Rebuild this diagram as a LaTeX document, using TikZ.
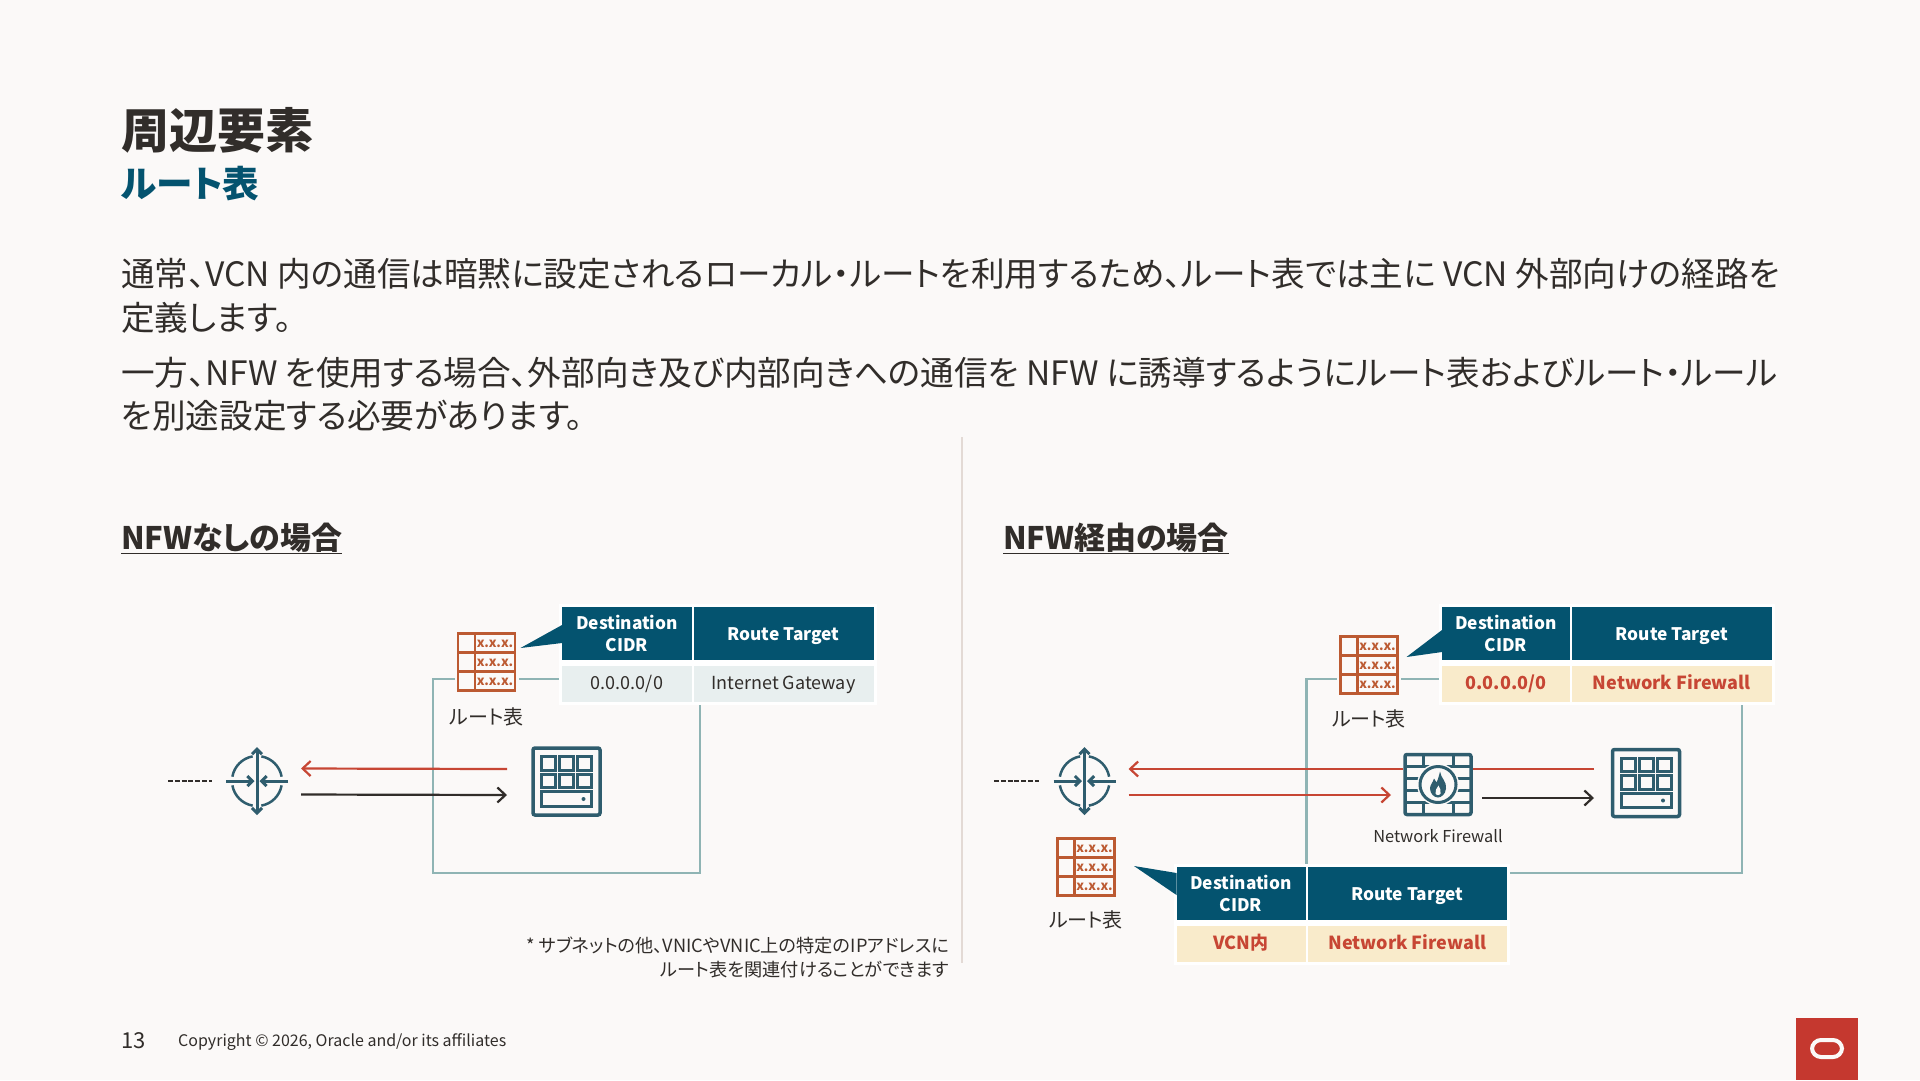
\documentclass[tikz,border=0pt]{standalone}
\usepackage{fontspec}
\setmainfont[RawFeature=+palt]{Noto Sans CJK JP}
\usetikzlibrary{arrows.meta, positioning, fit, backgrounds}
\definecolor{pageBg}{HTML}{FBF9F8}
\definecolor{inkDark}{HTML}{312D2A}
\definecolor{oraTeal}{HTML}{04536F}
\definecolor{iconTeal}{HTML}{2F5D6E}
\definecolor{boxLine}{HTML}{8FB4B4}
\definecolor{oraRed}{HTML}{C74634}
\definecolor{logoRed}{HTML}{C5382F}
\definecolor{rtblBrown}{HTML}{BC5A32}
\definecolor{rowGray}{HTML}{E8EFEF}
\definecolor{rowSand}{HTML}{F9EBCB}
\definecolor{divLine}{HTML}{E3DAD5}
\tikzset{
  arrowRed/.style={-{Straight Barb[length=8pt,width=15pt]}, oraRed, line width=2.2pt},
  arrowInk/.style={-{Straight Barb[length=8pt,width=15pt]}, inkDark, line width=2.2pt},
  lineRed/.style={oraRed, line width=2.2pt},
  dashInk/.style={inkDark, line width=2.5pt, dash pattern=on 5pt off 1.8pt},
  netBox/.style={draw=boxLine, line width=2.7pt},
  slot/.style={inner sep=0pt, outer sep=0pt},
  thCell/.style={fill=oraTeal, text=white, align=center, inner sep=0pt, outer sep=0pt,
                 font=\bfseries\fontsize{17.3}{22}\selectfont, minimum height=53pt},
  thOne/.style={thCell, text height=16pt, text depth=2pt},
  tdGray/.style={fill=rowGray, text=inkDark, inner sep=0pt, outer sep=0pt,
                 text height=14pt, text depth=4pt,
                 font=\fontsize{18}{22}\selectfont, minimum height=36pt},
  tdSand/.style={fill=rowSand, text=oraRed, inner sep=0pt, outer sep=0pt,
                 text height=14pt, text depth=4pt,
                 font=\bfseries\fontsize{18}{22}\selectfont, minimum height=36pt},
  tblBack/.style={fill=white, inner sep=3pt},
  label/.style={text=inkDark, inner sep=0pt, font=\fontsize{20}{24}\selectfont},
  headA/.style={text=inkDark, inner sep=0pt, anchor=west, font=\bfseries\fontsize{31}{36}\selectfont},
  bodyText/.style={text=inkDark, inner sep=0pt, anchor=north west, align=left,
                   font=\fontsize{33.6}{43.5}\selectfont},
  rtbl/.pic={
    \fill[pageBg] (-32,-29) rectangle (32,29);
    \draw[rtblBrown, line width=2.5pt] (-28.5,-28.5) rectangle (28.5,28.5)
      (-11.5,-28.5) -- (-11.5,28.5) (-28.5,-9.5) -- (28.5,-9.5) (-28.5,9.5) -- (28.5,9.5);
    \foreach \r/\yy in {a/-18, b/1, c/20}
      \node[text=rtblBrown, inner sep=0pt, font=\bfseries\fontsize{13}{13}\selectfont] (\r) at (8.5,\yy) {x.x.x.};
  },
  gateway/.pic={
    \foreach \a in {0,90,180,270}
      \draw[iconTeal, line width=2.5pt] (\a+10:25pt) arc[start angle=\a+10, end angle=\a+80, radius=25pt];
    \draw[iconTeal, line width=3pt, -{Straight Barb[length=5pt,width=10pt]}] (-31,0) -- (-2.5,0);
    \draw[iconTeal, line width=3pt, -{Straight Barb[length=5pt,width=10pt]}] (31,0) -- (2.5,0);
    \draw[iconTeal, line width=3pt, {Straight Barb[length=5pt,width=10pt]}-{Straight Barb[length=5pt,width=10pt]}] (0,-34) -- (0,34);
  },
  srvbox/.pic={
    \draw[iconTeal, line width=3.5pt, rounded corners=2pt] (-33.5,-33.5) rectangle (33.5,33.5);
    \foreach \xx in {-25,-7,11} \foreach \yy in {-25,-7.5}
      \draw[iconTeal, line width=3pt] (\xx,\yy) rectangle ++(14,13.5);
    \draw[iconTeal, line width=3pt] (-25,10) rectangle (25,24.5);
    \fill[iconTeal] (17,17.5) circle (2pt);
  },
  fwall/.pic={
    \draw[iconTeal, line width=3.5pt, rounded corners=2pt] (-33,-30) rectangle (33,30);
    \draw[iconTeal, line width=3pt] (-33,-18) -- (33,-18) (-33,-6) -- (33,-6) (-33,6) -- (33,6) (-33,18) -- (33,18)
      (-15,-30) -- (-15,-18) (15,-30) -- (15,-18) (-15,18) -- (-15,30) (15,18) -- (15,30);
    \fill[pageBg] (0,0) circle (21pt);
    \draw[iconTeal, line width=3pt] (0,0) circle (18pt);
    \fill[iconTeal] (2,-13) .. controls (3,-6) and (9,-3) .. (8,4) .. controls (7.5,10) and (3,13) .. (0,13)
      .. controls (-4,13) and (-8,9) .. (-8,4) .. controls (-8,0) and (-5,-2) .. (-4,-6)
      .. controls (-2,-4) and (-2,-2) .. (-1.5,-2) .. controls (0,-5) and (1,-9) .. (2,-13) -- cycle;
    \fill[pageBg] (0.5,1) .. controls (2,4) and (3.5,6) .. (2.5,9) .. controls (2,11) and (-2,11) .. (-2.5,9)
      .. controls (-3.5,6) and (-1,4) .. (0.5,1) -- cycle;
  },
}
\begin{document}
\begin{tikzpicture}[x=1pt, y=-1pt]
  \useasboundingbox (0,0) rectangle (1920,1080);
  \begin{scope}[on background layer]
    \fill[pageBg] (0,0) rectangle (1920,1080);
  \end{scope}

  % title and text
  \node[text=inkDark, inner sep=0pt, anchor=west, font=\bfseries\fontsize{48}{52}\selectfont] (ttl) at (121,130) {周辺要素};
  \node[text=oraTeal, inner sep=0pt, anchor=west, font=\bfseries\fontsize{36.6}{40}\selectfont] (sub) at (121,183.5) {ルート表};
  \node[bodyText] (para1) at (121,258) {通常、VCN 内の通信は暗黙に設定されるローカル・ルートを利用するため、ルート表では主に VCN 外部向けの経路を\\定義します。};
  \node[bodyText] (para2) at (121,356.5) {一方、NFW を使用する場合、外部向き及び内部向きへの通信を NFW に誘導するようにルート表およびルート・ルール\\を別途設定する必要があります。};
  \draw[divLine, line width=1.5pt] (962,437) -- (962,963);
  \node[headA] (headL) at (121,538.5) {\underline{NFWなしの場合}};
  \node[headA] (headR) at (1003,538.5) {\underline{NFW経由の場合}};

  % left side
  \node[thCell, minimum width=130pt] (thA1) at (627,633.5) {Destination\\CIDR};
  \node[thOne, minimum width=180pt, right=1.5pt of thA1] (thA2) {Route Target};
  \node[tdGray, minimum width=130pt, below=6pt of thA1] (tdA1) {0.0.0.0/0};
  \node[tdGray, minimum width=180pt, below=6pt of thA2] (tdA2) {Internet Gateway};
  \begin{scope}[on background layer]
    \draw[netBox] (433,679) rectangle (700,873);
    \node[tblBack, fit=(thA1)(tdA2)] (backA) {};
  \end{scope}
  \node[slot, minimum width=58pt, minimum height=58pt] (rtL) at (486.5,662) {};
  \pic (rtLi) at (rtL) {rtbl};
  \fill[oraTeal] (520.5,648) -- (562,625) -- (562,643) -- cycle;
  \node[label, below=16pt of rtL] (rtLtxt) {ルート表};
  \node[slot, minimum width=88pt, minimum height=68pt] (gwL) at (257,781) {};
  \pic at (gwL) {gateway};
  \node[slot, minimum width=119pt, minimum height=69pt] (srvL) at (566.5,781.5) {};
  \pic at (srvL) {srvbox};
  \coordinate[left=45pt of gwL] (extL);
  \coordinate[left=1pt of gwL] (extLb);
  \draw[dashInk] (extL) -- (extLb);
  \draw[arrowRed] ([yshift=12.5pt]srvL.west) -- ([yshift=12.5pt]gwL.east);
  \draw[arrowInk] ([yshift=-13.5pt]gwL.east) -- ([yshift=-13.5pt]srvL.west);
  \node[text=inkDark, inner sep=0pt, anchor=east, align=right, font=\fontsize{18.2}{24}\selectfont] (note) at (949,957) {* サブネットの他、VNICやVNIC上の特定のIPアドレスに\\ルート表を関連付けることができます};

  % right side
  \node[thCell, minimum width=128.5pt] (thB1) at (1506,633.5) {Destination\\CIDR};
  \node[thOne, minimum width=200pt, right=1.5pt of thB1] (thB2) {Route Target};
  \node[tdSand, minimum width=128.5pt, below=6pt of thB1] (tdB1) {0.0.0.0/0};
  \node[tdSand, minimum width=200pt, below=6pt of thB2] (tdB2) {Network Firewall};
  \node[slot, minimum width=58pt, minimum height=58pt] (rtR) at (1369,665) {};
  \pic (rtRi) at (rtR) {rtbl};
  \fill[oraTeal] (1406.5,657) -- (1442,630) -- (1442,652) -- cycle;
  \node[label, below=15pt of rtR] (rtRtxt) {ルート表};
  \node[slot, minimum width=88pt, minimum height=68pt] (gwR) at (1084.5,781) {};
  \pic at (gwR) {gateway};
  \node[slot, minimum width=70pt, minimum height=69pt] (fwN) at (1438,784.5) {};
  \pic at (fwN) {fwall};
  \node[text=inkDark, inner sep=0pt, font=\fontsize{16.4}{20}\selectfont, below=10pt of fwN] (fwTxt) {Network Firewall};
  \node[slot, minimum width=104pt, minimum height=70pt] (srvR) at (1646,783) {};
  \pic at (srvR) {srvbox};
  \coordinate[left=46.5pt of gwR] (extR);
  \coordinate[left=2pt of gwR] (extRb);
  \draw[dashInk] (extR) -- (extRb);
  \draw[lineRed] ([yshift=14pt]srvR.west) -- ([yshift=15.5pt]fwN.east);
  \draw[arrowRed] ([yshift=15.5pt]fwN.west) -- ([yshift=12pt]gwR.east);
  \draw[arrowRed] ([yshift=-14pt]gwR.east) -- ([xshift=-12pt,yshift=-10.5pt]fwN.west);
  \draw[arrowInk] ([xshift=9pt,yshift=-13.5pt]fwN.east) -- ([yshift=-15pt]srvR.west);

  % lower table
  \node[thCell, minimum width=129pt] (thC1) at (1241,893.5) {Destination\\CIDR};
  \node[thOne, minimum width=199.5pt, right=2pt of thC1] (thC2) {Route Target};
  \node[tdSand, minimum width=129pt, below=6pt of thC1] (tdC1) {VCN内};
  \node[tdSand, minimum width=199.5pt, below=6pt of thC2] (tdC2) {Network Firewall};
  \begin{scope}[on background layer]
    \draw[netBox] (1306.5,679) rectangle (1742,873);
    \node[tblBack, fit=(thB1)(tdB2)] (backB) {};
    \node[tblBack, fit=(thC1)(tdC2)] (backC) {};
  \end{scope}
  \node[slot, minimum width=58pt, minimum height=58pt] (rtD) at (1086,867) {};
  \pic (rtDi) at (rtD) {rtbl};
  \fill[oraTeal] (1134,866) -- (1176.5,873) -- (1176.5,895) -- cycle;
  \node[label, below=14pt of rtD] (rtDtxt) {ルート表};

  % footer
  \node[text=inkDark, inner sep=0pt, anchor=west, font=\fontsize{22}{24}\selectfont] (pageNo) at (121,1041) {13};
  \node[text=inkDark, inner sep=0pt, anchor=west, font=\fontsize{16}{20}\selectfont] (copy) at (178,1042) {Copyright © 2026, Oracle and/or its affiliates};
  \fill[logoRed] (1796,1018) rectangle (1858,1080);
  \draw[pageBg, line width=4pt, rounded corners=9pt] (1812,1040) rectangle (1842,1057);
\end{tikzpicture}
\end{document}
